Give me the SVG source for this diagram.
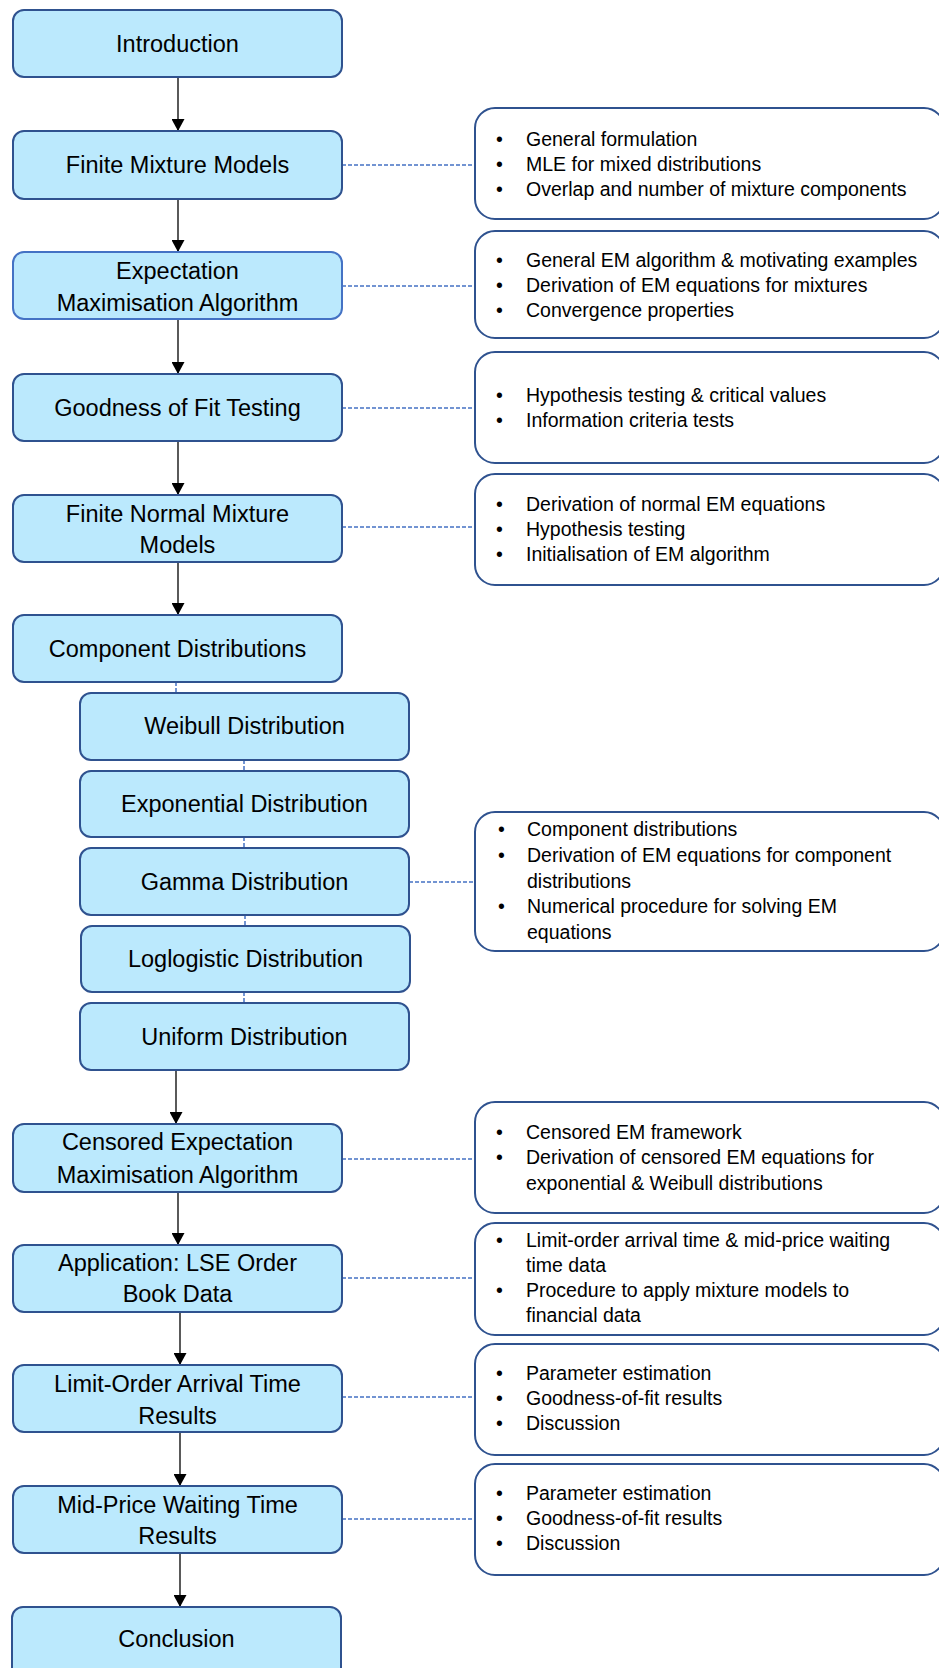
<svg xmlns="http://www.w3.org/2000/svg" width="939" height="1668" viewBox="0 0 939 1668">
<style>
.box{fill:#BBE9FD;stroke:#2F528F;stroke-width:2}
.box2{fill:#BBE9FD;stroke:#4472C4;stroke-width:2}
.note{fill:#FFFFFF;stroke:#2F528F;stroke-width:2}
.lt{font-family:"Liberation Sans",Arial,sans-serif;font-size:23.5px;fill:#000;text-anchor:middle}
.rt{font-family:"Liberation Sans",Arial,sans-serif;font-size:19.5px;fill:#000}
.arrow{stroke:#000;stroke-width:1.3;fill:none;marker-end:url(#ah)}
.dash{stroke:#4472C4;stroke-width:1.5;stroke-dasharray:4 2;fill:none}
</style>
<defs>
<marker id="ah" markerUnits="userSpaceOnUse" markerWidth="13" markerHeight="13" refX="12" refY="6.5" orient="auto">
<path d="M0,0 L12,6.5 L0,13 z" fill="#000"/>
</marker>
</defs>
<rect width="939" height="1668" fill="#FFFFFF"/>

<g id="connectors">
<line class="arrow" x1="178" y1="77" x2="178" y2="131"/>
<line class="arrow" x1="178" y1="199" x2="178" y2="252"/>
<line class="arrow" x1="178" y1="319" x2="178" y2="374"/>
<line class="arrow" x1="178" y1="441" x2="178" y2="495"/>
<line class="arrow" x1="178" y1="562" x2="178" y2="615"/>
<line class="arrow" x1="176" y1="1070" x2="176" y2="1124"/>
<line class="arrow" x1="178" y1="1192" x2="178" y2="1245"/>
<line class="arrow" x1="180" y1="1312" x2="180" y2="1365"/>
<line class="arrow" x1="180" y1="1432" x2="180" y2="1486"/>
<line class="arrow" x1="180" y1="1553" x2="180" y2="1607"/>
<line class="dash" x1="342" y1="165" x2="475" y2="165"/>
<line class="dash" x1="342" y1="286" x2="475" y2="286"/>
<line class="dash" x1="342" y1="408" x2="475" y2="408"/>
<line class="dash" x1="342" y1="527" x2="475" y2="527"/>
<line class="dash" x1="409" y1="882" x2="475" y2="882"/>
<line class="dash" x1="342" y1="1159" x2="475" y2="1159"/>
<line class="dash" x1="342" y1="1278" x2="475" y2="1278"/>
<line class="dash" x1="342" y1="1397" x2="475" y2="1397"/>
<line class="dash" x1="342" y1="1519" x2="475" y2="1519"/>
<line class="dash" x1="176" y1="682" x2="176" y2="693"/>
<line class="dash" x1="244" y1="760" x2="244" y2="771"/>
<line class="dash" x1="244" y1="837" x2="244" y2="848"/>
<line class="dash" x1="245" y1="915" x2="245" y2="926"/>
<line class="dash" x1="244" y1="992" x2="244" y2="1003"/>
</g>

<g id="introduction"><rect class="box" x="13" y="10" width="329" height="67" rx="11"/><text class="lt" x="177.5" y="52">Introduction</text></g>
<g id="finite-mixture-models"><rect class="box" x="13" y="131" width="329" height="68" rx="11"/><text class="lt" x="177.5" y="173">Finite Mixture Models</text></g>
<g id="em-algorithm"><rect class="box2" x="13" y="252" width="329" height="67" rx="11"/><text class="lt" x="177.5" y="279">Expectation</text><text class="lt" x="177.5" y="311">Maximisation Algorithm</text></g>
<g id="goodness-of-fit"><rect class="box" x="13" y="374" width="329" height="67" rx="11"/><text class="lt" x="177.5" y="416">Goodness of Fit Testing</text></g>
<g id="finite-normal"><rect class="box" x="13" y="495" width="329" height="67" rx="11"/><text class="lt" x="177.5" y="522">Finite Normal Mixture</text><text class="lt" x="177.5" y="553">Models</text></g>
<g id="component-distributions"><rect class="box" x="13" y="615" width="329" height="67" rx="11"/><text class="lt" x="177.5" y="657">Component Distributions</text></g>
<g id="weibull"><rect class="box" x="80" y="693" width="329" height="67" rx="11"/><text class="lt" x="244.5" y="734">Weibull Distribution</text></g>
<g id="exponential"><rect class="box" x="80" y="771" width="329" height="66" rx="11"/><text class="lt" x="244.5" y="812">Exponential Distribution</text></g>
<g id="gamma"><rect class="box" x="80" y="848" width="329" height="67" rx="11"/><text class="lt" x="244.5" y="890">Gamma Distribution</text></g>
<g id="loglogistic"><rect class="box" x="81" y="926" width="329" height="66" rx="11"/><text class="lt" x="245.5" y="967">Loglogistic Distribution</text></g>
<g id="uniform"><rect class="box" x="80" y="1003" width="329" height="67" rx="11"/><text class="lt" x="244.5" y="1045">Uniform Distribution</text></g>
<g id="censored-em"><rect class="box" x="13" y="1124" width="329" height="68" rx="11"/><text class="lt" x="177.5" y="1150">Censored Expectation</text><text class="lt" x="177.5" y="1183">Maximisation Algorithm</text></g>
<g id="application"><rect class="box" x="13" y="1245" width="329" height="67" rx="11"/><text class="lt" x="177.5" y="1271">Application: LSE Order</text><text class="lt" x="177.5" y="1302">Book Data</text></g>
<g id="limit-order"><rect class="box" x="13" y="1365" width="329" height="67" rx="11"/><text class="lt" x="177.5" y="1392">Limit-Order Arrival Time</text><text class="lt" x="177.5" y="1424">Results</text></g>
<g id="mid-price"><rect class="box" x="13" y="1486" width="329" height="67" rx="11"/><text class="lt" x="177.5" y="1513">Mid-Price Waiting Time</text><text class="lt" x="177.5" y="1544">Results</text></g>
<g id="conclusion"><rect class="box" x="12" y="1607" width="329" height="80" rx="11"/><text class="lt" x="176.5" y="1647">Conclusion</text></g>

<g id="note-fmm"><rect class="note" x="475" y="108" width="469" height="111" rx="20"/>
<text class="rt" x="496" y="146">•</text><text class="rt" x="526" y="146">General formulation</text>
<text class="rt" x="496" y="171">•</text><text class="rt" x="526" y="171">MLE for mixed distributions</text>
<text class="rt" x="496" y="196">•</text><text class="rt" x="526" y="196">Overlap and number of mixture components</text></g>
<g id="note-em"><rect class="note" x="475" y="231" width="469" height="107" rx="20"/>
<text class="rt" x="496" y="267">•</text><text class="rt" x="526" y="267">General EM algorithm &amp; motivating examples</text>
<text class="rt" x="496" y="292">•</text><text class="rt" x="526" y="292">Derivation of EM equations for mixtures</text>
<text class="rt" x="496" y="317">•</text><text class="rt" x="526" y="317">Convergence properties</text></g>
<g id="note-gof"><rect class="note" x="475" y="352" width="469" height="111" rx="20"/>
<text class="rt" x="496" y="402">•</text><text class="rt" x="526" y="402">Hypothesis testing &amp; critical values</text>
<text class="rt" x="496" y="427">•</text><text class="rt" x="526" y="427">Information criteria tests</text></g>
<g id="note-normal"><rect class="note" x="475" y="474" width="469" height="111" rx="20"/>
<text class="rt" x="496" y="511">•</text><text class="rt" x="526" y="511">Derivation of normal EM equations</text>
<text class="rt" x="496" y="536">•</text><text class="rt" x="526" y="536">Hypothesis testing</text>
<text class="rt" x="496" y="561">•</text><text class="rt" x="526" y="561">Initialisation of EM algorithm</text></g>
<g id="note-components"><rect class="note" x="475" y="812" width="469" height="139" rx="20"/>
<text class="rt" x="498" y="836">•</text><text class="rt" x="527" y="836">Component distributions</text>
<text class="rt" x="498" y="862">•</text><text class="rt" x="527" y="862">Derivation of EM equations for component</text>
<text class="rt" x="527" y="888">distributions</text>
<text class="rt" x="498" y="913">•</text><text class="rt" x="527" y="913">Numerical procedure for solving EM</text>
<text class="rt" x="527" y="939">equations</text></g>
<g id="note-censored"><rect class="note" x="475" y="1102" width="469" height="111" rx="20"/>
<text class="rt" x="496" y="1139">•</text><text class="rt" x="526" y="1139">Censored EM framework</text>
<text class="rt" x="496" y="1164">•</text><text class="rt" x="526" y="1164">Derivation of censored EM equations for</text>
<text class="rt" x="526" y="1190">exponential &amp; Weibull distributions</text></g>
<g id="note-application"><rect class="note" x="475" y="1223" width="469" height="112" rx="20"/>
<text class="rt" x="496" y="1247">•</text><text class="rt" x="526" y="1247">Limit-order arrival time &amp; mid-price waiting</text>
<text class="rt" x="526" y="1272">time data</text>
<text class="rt" x="496" y="1297">•</text><text class="rt" x="526" y="1297">Procedure to apply mixture models to</text>
<text class="rt" x="526" y="1322">financial data</text></g>
<g id="note-limit"><rect class="note" x="475" y="1344" width="469" height="111" rx="20"/>
<text class="rt" x="496" y="1380">•</text><text class="rt" x="526" y="1380">Parameter estimation</text>
<text class="rt" x="496" y="1405">•</text><text class="rt" x="526" y="1405">Goodness-of-fit results</text>
<text class="rt" x="496" y="1430">•</text><text class="rt" x="526" y="1430">Discussion</text></g>
<g id="note-midprice"><rect class="note" x="475" y="1464" width="469" height="111" rx="20"/>
<text class="rt" x="496" y="1500">•</text><text class="rt" x="526" y="1500">Parameter estimation</text>
<text class="rt" x="496" y="1525">•</text><text class="rt" x="526" y="1525">Goodness-of-fit results</text>
<text class="rt" x="496" y="1550">•</text><text class="rt" x="526" y="1550">Discussion</text></g>
</svg>
